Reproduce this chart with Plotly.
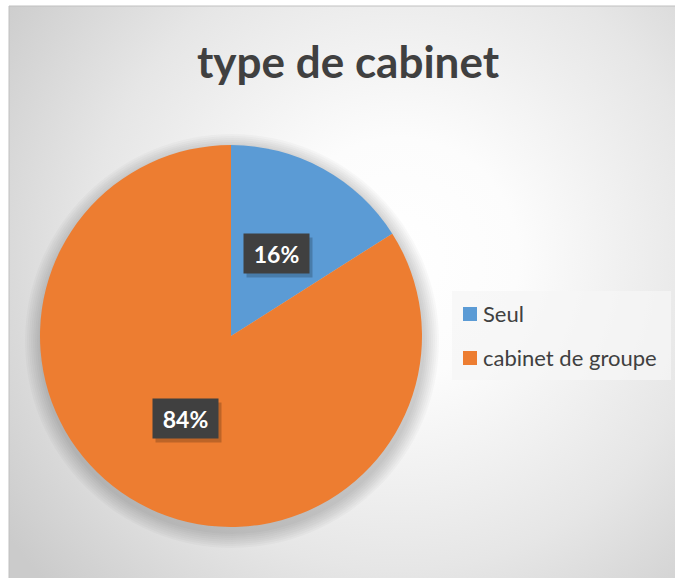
import math
import base64
import plotly.graph_objects as go

# ---------------- data ----------------
labels = ["Seul", "cabinet de groupe"]
values = [16, 84]
colors = ["#5B9BD5", "#ED7D31"]
title_text = "type de cabinet"

# ---------------- layout geometry (page pixels) ----------------
W, H = 675, 578
CX, CY, R = 231, 336, 191
LABEL_R = 0.49


def px(x):
    return x / W


def py(y):
    return 1 - y / H


# background with radial gradient (chart area)
BX0, BY0, BX1, BY1 = 9, 6, 675, 578
svg = (
    "<svg xmlns='http://www.w3.org/2000/svg' width='666' height='572'>"
    "<defs><radialGradient id='g' cx='390' cy='252' r='480' gradientUnits='userSpaceOnUse'>"
    "<stop offset='0' stop-color='#ffffff'/>"
    "<stop offset='0.25' stop-color='#fcfcfc'/>"
    "<stop offset='0.65' stop-color='#e6e6e6'/>"
    "<stop offset='1' stop-color='#cbcbcb'/>"
    "</radialGradient></defs>"
    "<rect width='100%' height='100%' fill='url(#g)'/></svg>"
)
bg_uri = "data:image/svg+xml;base64," + base64.b64encode(svg.encode()).decode()

fig = go.Figure()
fig.add_trace(go.Pie(
    labels=labels,
    values=values,
    marker=dict(colors=colors, line=dict(width=0)),
    sort=False,
    direction="clockwise",
    rotation=0,
    textinfo="none",
    hoverinfo="label+percent",
    showlegend=False,
    domain=dict(x=[px(CX - R), px(CX + R)], y=[py(CY + R), py(CY - R)]),
))

shapes = []
# soft shadow under the pie
for i in range(8):
    rr = R + 2 + i * 2.0
    ox, oy = CX + 1, CY + 5
    shapes.append(dict(
        type="circle", xref="paper", yref="paper", layer="below",
        x0=px(ox - rr), x1=px(ox + rr), y0=py(oy + rr), y1=py(oy - rr),
        fillcolor="rgba(0,0,0,0.025)", line=dict(width=0),
    ))

# chart border
shapes.append(dict(
    type="rect", xref="paper", yref="paper", layer="above",
    x0=px(BX0), x1=px(BX1) + 0.01, y0=py(BY1) - 0.01, y1=py(BY0),
    fillcolor="rgba(0,0,0,0)", line=dict(color="#c0c0c0", width=1),
))

annotations = []
# title
annotations.append(dict(
    text="<b>" + title_text + "</b>", xref="paper", yref="paper",
    x=px(348), y=py(61), xanchor="center", yanchor="middle", showarrow=False,
    font=dict(family="Lato", size=44, color="#404040"),
))

# data labels
total = sum(values)
cum = 0
for v in values:
    ang = 2 * math.pi * (cum + v / 2) / total
    cum += v
    lx = CX + LABEL_R * R * math.sin(ang)
    ly = CY - LABEL_R * R * math.cos(ang)
    pct = f"{round(100 * v / total)}%"
    annotations.append(dict(
        text=" ", xref="paper", yref="paper", x=px(lx), y=py(ly),
        xshift=3, yshift=-4, xanchor="center", yanchor="middle", showarrow=False,
        width=65, height=39, borderpad=0, bgcolor="rgba(0,0,0,0.2)",
        font=dict(size=10),
    ))
    annotations.append(dict(
        text="<b>" + pct + "</b>", xref="paper", yref="paper", x=px(lx), y=py(ly),
        xanchor="center", yanchor="middle", showarrow=False,
        width=65, height=39, borderpad=0, bgcolor="#404040",
        font=dict(family="Lato", size=23, color="#ffffff"),
    ))

# legend (built from labels / colors)
LGX0, LGY0, LGX1, LGY1 = 452, 291, 671, 380
shapes.append(dict(
    type="rect", xref="paper", yref="paper", layer="below",
    x0=px(LGX0), x1=px(LGX1), y0=py(LGY1), y1=py(LGY0),
    fillcolor="rgba(246,246,246,0.75)", line=dict(width=0),
))
item_y = [314, 358]
for lab, col, yy in zip(labels, colors, item_y):
    shapes.append(dict(
        type="rect", xref="paper", yref="paper", layer="above",
        x0=px(463), x1=px(477), y0=py(yy + 7), y1=py(yy - 7),
        fillcolor=col, line=dict(width=0),
    ))
    annotations.append(dict(
        text=lab, xref="paper", yref="paper", x=px(481), y=py(yy - 1),
        xanchor="left", yanchor="middle", showarrow=False,
        font=dict(family="Lato", size=22, color="#404040"),
    ))

fig.update_layout(
    width=W, height=H,
    margin=dict(l=0, r=0, t=0, b=0),
    paper_bgcolor="#ffffff",
    plot_bgcolor="#ffffff",
    shapes=shapes,
    annotations=annotations,
    images=[dict(
        source=bg_uri, xref="paper", yref="paper",
        x=px(BX0), y=py(BY0), sizex=px(BX1) - px(BX0), sizey=py(BY0) - py(BY1),
        xanchor="left", yanchor="top", sizing="stretch", layer="below",
    )],
)

fig.write_html(
    "out.html",
    config={"displayModeBar": False},
    post_script="document.body.style.margin='0';document.body.style.overflow='hidden';",
)
